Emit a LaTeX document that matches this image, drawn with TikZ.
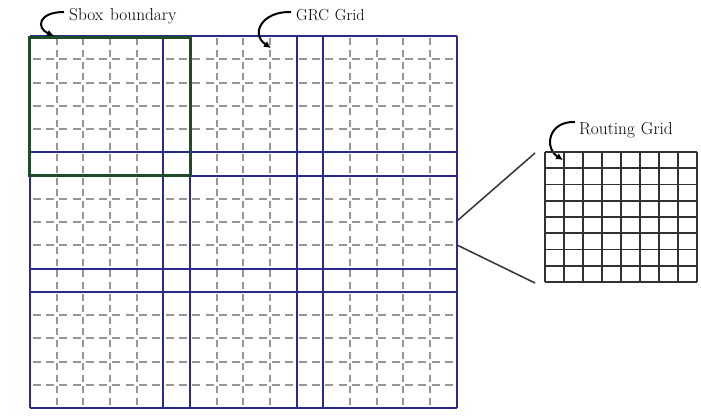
\documentclass[tikz,border=0pt]{standalone}
\usetikzlibrary{arrows.meta,calc}
\definecolor{grcblue}{RGB}{42,42,140}
\definecolor{sboxgreen}{RGB}{30,75,42}
\definecolor{dashgray}{RGB}{150,150,150}
\definecolor{rgline}{RGB}{50,50,50}
\tikzset{
  graydashv/.style={draw=dashgray,line width=2pt,dash pattern=on 7pt off 4.6pt,dash phase=-2.3pt},
  graydashh/.style={draw=dashgray,line width=2pt,dash pattern=on 8pt off 5.3pt,dash phase=-2.6pt},
  grcline/.style={draw=grcblue,line width=2pt},
  sboxline/.style={draw=sboxgreen,line width=3pt},
  rgthin/.style={draw=rgline,line width=1.6pt},
  rgthick/.style={draw=rgline,line width=2.6pt},
  callout/.style={draw=black,line width=2pt,-{Latex[length=7pt,width=7pt]}},
  zoomline/.style={draw=black!80,line width=1.5pt},
  lbl/.style={inner sep=0pt,font=\fontsize{17.3}{20}\selectfont},
  lblsmall/.style={inner sep=0pt,font=\fontsize{16}{19}\selectfont}
}
\begin{document}
\begin{tikzpicture}[x=1pt,y=-1pt]
\useasboundingbox[fill=white] (0,0) rectangle (701,415);
% gray dashed routing sub-grid
\foreach \i in {1,...,15}{
  \draw[graydashv] ({30+\i*26.67},36) -- ({30+\i*26.67},408);
  \draw[graydashh] (30,{36+\i*23.25}) -- (456.7,{36+\i*23.25});
}
% GRC grid (blue)
\foreach \i in {0,5,6,10,11,16}{
  \draw[grcline] ({30+\i*26.67},36) -- ({30+\i*26.67},408);
  \draw[grcline] (30,{36+\i*23.25}) -- (456.7,{36+\i*23.25});
}
% Sbox boundary (green)
\draw[sboxline] (29,37) rectangle ({30+6*26.67},{36+6*23.25});
% labels
\node[lbl,anchor=base west] (sboxlbl) at (69,20) {Sbox\hspace{7pt}boundary};
\node[lblsmall,anchor=base west] (grclbl) at (296,20) {GRC\hspace{6pt}Grid};
\node[lbl,anchor=base west] (routelbl) at (579,134) {Routing\hspace{6pt}Grid};
\coordinate (sboxtip) at (54,36);
\coordinate (grctip) at (271,48);
\coordinate (routetip) at (563,160);
\draw[callout] ($(sboxlbl.base west)+(-5,-8)$) .. controls (38,12) and (36,28) .. (sboxtip);
\draw[callout] ($(grclbl.base west)+(-5,-8)$) .. controls (262,11) and (250,34) .. (grctip);
\draw[callout] ($(routelbl.base west)+(-4,-12)$) .. controls (548,121) and (544,148) .. (routetip);
% zoom lines
\coordinate (zt1) at (457,221);
\coordinate (zb1) at (457,245);
\coordinate (zt2) at (535,153);
\coordinate (zb2) at (535,283);
\draw[zoomline] (zt1) -- (zt2);
\draw[zoomline] (zb1) -- (zb2);
% routing grid detail
\foreach \i in {0,...,8}{
  \draw[rgthin] ({545+\i*19},152) -- ({545+\i*19},282);
}
\foreach \j in {0,1,2,3,5,6,7,8}{
  \draw[rgthin] (545,{152+\j*16.25}) -- (697,{152+\j*16.25});
}
\draw[rgthick] (545,{152+4*16.25}) -- (697,{152+4*16.25});
\end{tikzpicture}
\end{document}
